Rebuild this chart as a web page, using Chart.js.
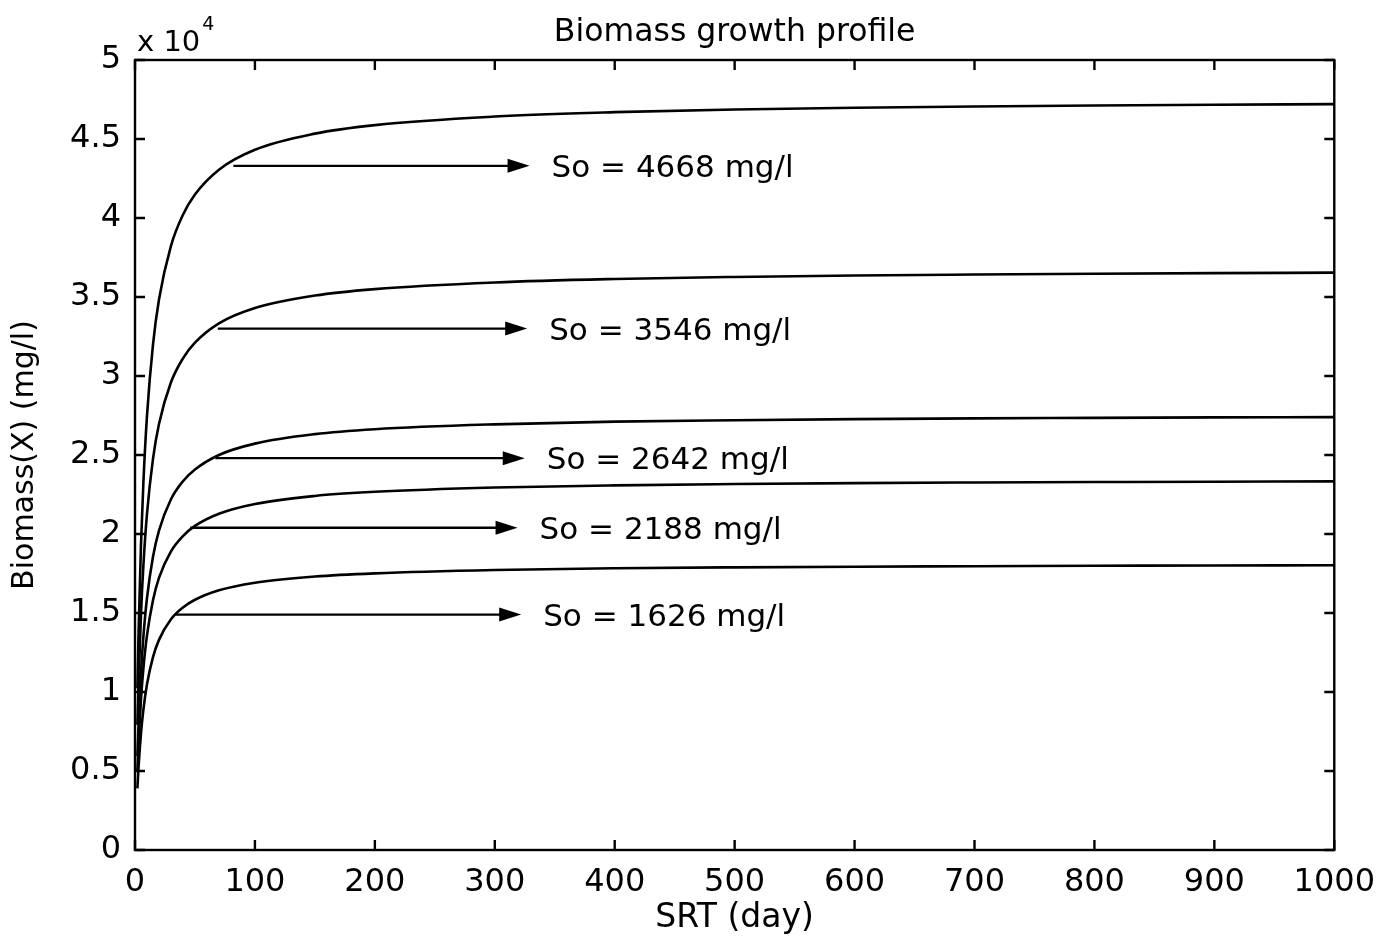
<!DOCTYPE html>
<html>
<head>
<meta charset="utf-8">
<script src="https://cdn.jsdelivr.net/npm/chart.js@4.4.1/dist/chart.umd.min.js"></script>
<style>
  html, body { margin: 0; padding: 0; background: #fff; }
  #wrap { width: 1388px; height: 945px; }
</style>
</head>
<body>
<div id="wrap"><canvas id="biomassChart" width="1388" height="945"></canvas></div>
<script>
// SRT (day) sample points
const srtDays = [2, 3, 5, 7, 10, 15, 20, 30, 40, 50, 70, 100, 150, 200, 300, 400, 500, 600, 700, 800, 900, 1000];

// Biomass X (mg/l) for each influent So
const biomass4668 = [10230, 13850, 19330, 23280, 27480, 31980, 34840, 38240, 40210, 41490, 43060, 44320, 45340, 45880, 46420, 46700, 46870, 46980, 47060, 47120, 47170, 47210];
const biomass3546 = [7920, 10720, 14960, 18010, 21270, 24750, 26960, 29600, 31120, 32110, 33330, 34300, 35090, 35500, 35920, 36140, 36270, 36360, 36420, 36470, 36510, 36540];
const biomass2642 = [5940, 8040, 11220, 13510, 15950, 18560, 20220, 22200, 23340, 24080, 25000, 25720, 26320, 26630, 26940, 27110, 27200, 27270, 27320, 27350, 27380, 27400];
const biomass2188 = [5050, 6850, 9550, 11500, 13580, 15810, 17220, 18900, 19870, 20510, 21280, 21900, 22410, 22670, 22940, 23080, 23160, 23220, 23260, 23290, 23310, 23330];
const biomass1626 = [3900, 5290, 7380, 8880, 10490, 12210, 13300, 14600, 15350, 15840, 16440, 16920, 17310, 17510, 17720, 17830, 17890, 17930, 17960, 17990, 18010, 18020];

// Annotation arrows (data units)
const soLabels = ['So = 4668 mg/l', 'So = 3546 mg/l', 'So = 2642 mg/l', 'So = 2188 mg/l', 'So = 1626 mg/l'];
const arrowLevel = [43300, 33000, 24800, 20400, 14900];
const arrowFrom = [82, 69, 67, 46, 34];
const arrowTo = [329, 327, 325, 319, 322];

const FONT = 'DejaVu Sans';

function toPoints(values) {
    return srtDays.map((d, i) => ({ x: d, y: values[i] }));
}

function curve(values) {
    return {
        data: toPoints(values),
        borderColor: '#000',
        borderWidth: 2.6,
        pointRadius: 0,
        fill: false,
        cubicInterpolationMode: 'monotone'
    };
}

// Frame, inward ticks, arrows, labels, title
const decorations = {
    id: 'decorations',
    afterDraw(chart) {
        const { ctx, chartArea: a, scales: { x, y } } = chart;
        ctx.save();
        ctx.strokeStyle = '#000';
        ctx.fillStyle = '#000';
        ctx.lineWidth = 2.4;

        ctx.strokeRect(a.left, a.top, a.right - a.left, a.bottom - a.top);

        const tl = 10;
        ctx.beginPath();
        x.ticks.forEach(t => {
            const px = x.getPixelForValue(t.value);
            ctx.moveTo(px, a.bottom); ctx.lineTo(px, a.bottom - tl);
            ctx.moveTo(px, a.top); ctx.lineTo(px, a.top + tl);
        });
        y.ticks.forEach(t => {
            const py = y.getPixelForValue(t.value);
            ctx.moveTo(a.left, py); ctx.lineTo(a.left + tl, py);
            ctx.moveTo(a.right, py); ctx.lineTo(a.right - tl, py);
        });
        ctx.stroke();

        // arrows + labels
        ctx.lineWidth = 2.4;
        ctx.font = `31px "${FONT}"`;
        ctx.textBaseline = 'middle';
        ctx.textAlign = 'left';
        soLabels.forEach((label, i) => {
            const py = y.getPixelForValue(arrowLevel[i]);
            const x0 = x.getPixelForValue(arrowFrom[i]);
            const x1 = x.getPixelForValue(arrowTo[i]);
            ctx.beginPath();
            ctx.moveTo(x0, py);
            ctx.lineTo(x1 - 18, py);
            ctx.stroke();
            ctx.beginPath();
            ctx.moveTo(x1, py);
            ctx.lineTo(x1 - 22, py - 7);
            ctx.lineTo(x1 - 22, py + 7);
            ctx.closePath();
            ctx.fill();
            ctx.fillText(label, x1 + 22, py + 3);
        });

        // title
        ctx.textAlign = 'center';
        ctx.font = `31.5px "${FONT}"`;
        ctx.fillText('Biomass growth profile', (a.left + a.right) / 2, 33);

        // exponent
        ctx.textAlign = 'left';
        ctx.textBaseline = 'alphabetic';
        ctx.font = `29px "${FONT}"`;
        ctx.fillText('x 10', a.left + 2, 51);
        const w = ctx.measureText('x 10').width;
        ctx.font = `19px "${FONT}"`;
        ctx.fillText('4', a.left + 4 + w, 30);

        ctx.restore();
    }
};

new Chart(document.getElementById('biomassChart'), {
    type: 'line',
    data: {
        datasets: [
            curve(biomass4668),
            curve(biomass3546),
            curve(biomass2642),
            curve(biomass2188),
            curve(biomass1626)
        ]
    },
    options: {
        responsive: false,
        animation: false,
        devicePixelRatio: 1,
        layout: { padding: { top: 60, right: 53, left: 0, bottom: 0 } },
        plugins: {
            legend: { display: false },
            tooltip: { enabled: false }
        },
        scales: {
            x: {
                type: 'linear',
                min: 0,
                max: 1000,
                grid: { display: false, drawTicks: false },
                border: { display: false },
                ticks: {
                    stepSize: 100,
                    color: '#000',
                    padding: 13,
                    font: { family: FONT, size: 32 },
                    callback: v => String(v)
                },
                title: { display: true, text: 'SRT (day)', color: '#000', font: { family: FONT, size: 33 }, padding: { top: 0, bottom: 7 } },
                afterFit: s => { s.height = 95; }
            },
            y: {
                min: 0,
                max: 50000,
                grid: { display: false, drawTicks: false },
                border: { display: false },
                ticks: {
                    stepSize: 5000,
                    color: '#000',
                    padding: 14,
                    font: { family: FONT, size: 32 },
                    callback: v => String(v / 10000)
                },
                title: { display: true, text: 'Biomass(X) (mg/l)', color: '#000', font: { family: FONT, size: 30 }, padding: { top: 7, bottom: 0 } },
                afterFit: s => { s.width = 135; }
            }
        }
    },
    plugins: [decorations]
});
</script>
</body>
</html>
